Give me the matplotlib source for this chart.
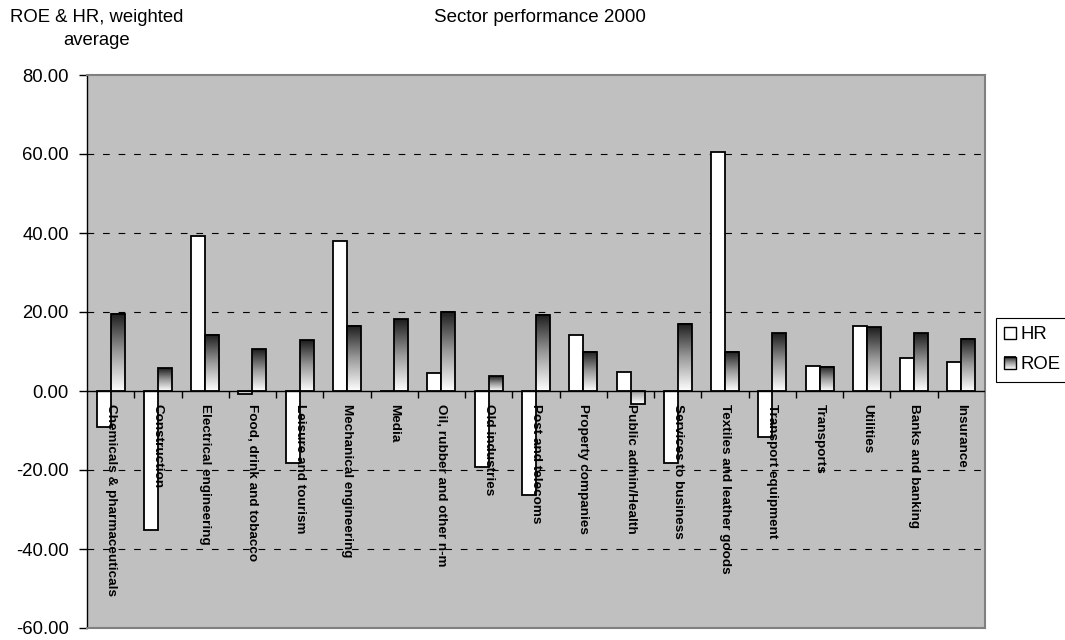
import numpy as np
import matplotlib
matplotlib.use("Agg")
import matplotlib.pyplot as plt
from matplotlib.colors import LinearSegmentedColormap
from matplotlib.patches import Rectangle
from matplotlib.legend_handler import HandlerBase
from matplotlib.image import BboxImage
from matplotlib.transforms import Bbox, TransformedBbox
from matplotlib.lines import TICKDOWN

plt.rcParams['font.family'] = ['Liberation Sans', 'DejaVu Sans']

sectors = [
    "Chemicals & pharmaceuticals", "Construction", "Electrical engineering",
    "Food, drink and tobacco", "Leisure and tourism", "Mechanical engineering",
    "Media", "Oil, rubber and other n-m", "Old industries", "Post and telecoms",
    "Property companies", "Public admin/Health", "Services to business",
    "Textiles and leather goods", "Transport equipment", "Transports",
    "Utilities", "Banks and banking", "Insurance",
]
hr = [-9.1, -35.2, 39.2, -0.8, -18.3, 37.9, 0.0, 4.5, -19.3, -26.3,
      14.3, 4.9, -18.2, 60.6, -11.7, 6.3, 16.4, 8.3, 7.4]
roe = [19.6, 5.8, 14.3, 10.6, 12.9, 16.5, 18.2, 20.1, 3.7, 19.3,
       9.9, -3.3, 17.0, 9.9, 14.6, 6.2, 16.1, 14.6, 13.2]
yticks = [80, 60, 40, 20, 0, -20, -40, -60]

title = "Sector performance 2000"
ylabel = "ROE & HR, weighted\naverage"

roe_cmap = LinearSegmentedColormap.from_list("roe", ["#ffffff", "#9a9a9a", "#1c1c1c"])

fig = plt.figure(figsize=(10.65, 6.4), dpi=100)
ax = fig.add_axes([87 / 1065, 1 - 628 / 640, (985 - 87) / 1065, (628 - 75) / 640])
ax.set_facecolor("#c0c0c0")

n = len(sectors)
x = np.arange(n)
w = 0.296
ymin, ymax = min(yticks), max(yticks)

# dashed reference lines behind the bars
for t in yticks:
    if t not in (ymin, ymax, 0):
        ax.axhline(t, color="black", lw=0.8, linestyle=(0, (6, 8)), zorder=0.5)

ax.bar(x - w / 2, hr, width=w, color="white", edgecolor="black", linewidth=1.3, zorder=2)

# ROE bars: vertical dark-to-light gradient inside a black outline
grad_full = np.linspace(1, 0, 256).reshape(-1, 1)
for xi, v in zip(x, roe):
    top, bottom = max(v, 0), min(v, 0)
    g = grad_full if v >= 0 else grad_full * 0.5
    ax.imshow(g, extent=(xi, xi + w, bottom, top), origin="upper", cmap=roe_cmap,
              vmin=0, vmax=1, aspect="auto", interpolation="bilinear", zorder=2)
ax.bar(x + w / 2, roe, width=w, facecolor="none", edgecolor="black", linewidth=1.3, zorder=3)

# zero line with category separator ticks
ax.axhline(0, color="black", lw=1.0, zorder=4)
bounds = np.arange(n - 1) + 0.5
ax.plot(bounds, np.zeros_like(bounds), linestyle="none", marker=TICKDOWN,
        markersize=5, markeredgewidth=1.0, color="black", zorder=4)

for xi, name in zip(x, sectors):
    ax.annotate(name, (xi, 0), xytext=(0, -9), textcoords="offset points",
                rotation=-90, ha="center", va="top", fontsize=9.7, fontweight="bold",
                zorder=6)

ax.set_xlim(-0.5, n - 0.5)
ax.set_ylim(ymin, ymax)
ax.set_xticks([])
ax.set_yticks(yticks)
ax.set_yticklabels([f"{t:.2f}" for t in yticks], fontsize=13.3)
ax.tick_params(axis="y", direction="out", length=6, width=1, pad=7)

for side in ("top", "right", "bottom"):
    ax.spines[side].set_color("#808080")
    ax.spines[side].set_linewidth(1.5)
ax.spines["left"].set_color("black")
ax.spines["left"].set_linewidth(1.0)

fig.text(540 / 1065, 1 - 17 / 640, title, ha="center", va="center", fontsize=13.5)
fig.text(97 / 1065, 1 - 29 / 640, ylabel, ha="center", va="center", fontsize=13.3,
         linespacing=1.5)


class GradientHandler(HandlerBase):
    def create_artists(self, legend, orig_handle, xdescent, ydescent, width, height,
                       fontsize, trans):
        bb = TransformedBbox(Bbox.from_bounds(-xdescent, -ydescent, width, height), trans)
        img = BboxImage(bb, cmap=roe_cmap, norm=plt.Normalize(0, 1),
                        interpolation="bilinear", origin="upper")
        img.set_data(grad_full)
        rect = Rectangle((-xdescent, -ydescent), width, height, facecolor="none",
                         edgecolor="black", lw=1, transform=trans)
        return [img, rect]


hr_handle = Rectangle((0, 0), 1, 1, facecolor="white", edgecolor="black", lw=1)
roe_handle = Rectangle((0, 0), 1, 1, facecolor="none", edgecolor="black", lw=1)
leg = fig.legend([hr_handle, roe_handle], ["HR", "ROE"], loc="upper left",
                 bbox_to_anchor=(996 / 1065, 1 - 318 / 640), fontsize=13.3,
                 frameon=True, fancybox=False, edgecolor="black", framealpha=1,
                 handlelength=0.64, handleheight=0.64, handletextpad=0.25,
                 borderpad=0.45, labelspacing=0.7, borderaxespad=0,
                 handler_map={roe_handle: GradientHandler()})
leg.get_frame().set_linewidth(0.8)

fig.savefig("out.png", dpi=100)
